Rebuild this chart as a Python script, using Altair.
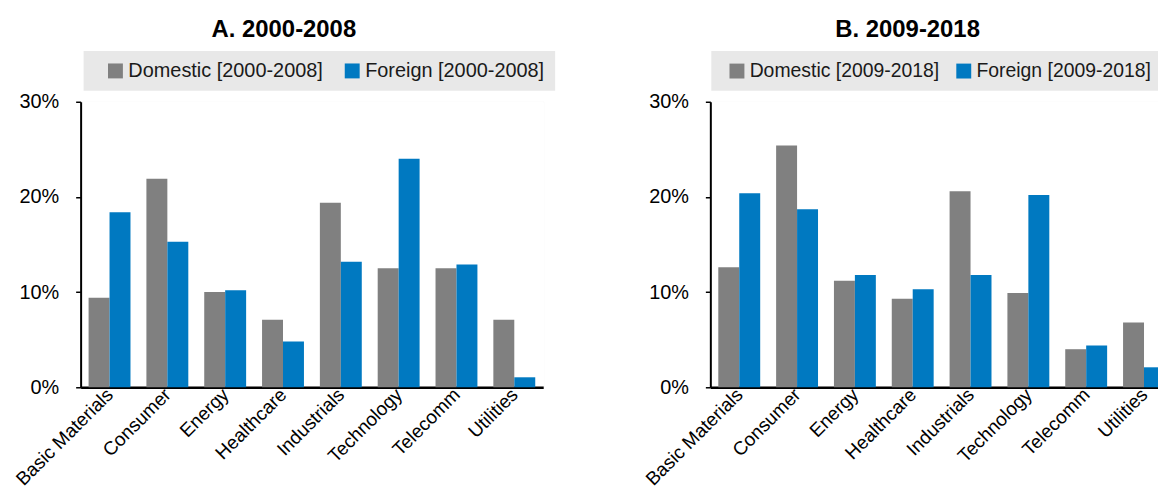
import altair as alt
import pandas as pd

categories = ["Basic Materials", "Consumer", "Energy", "Healthcare",
              "Industrials", "Technology", "Telecomm", "Utilities"]
domestic_a = [9.4, 21.9, 10.0, 7.1, 19.4, 12.5, 12.5, 7.1]
foreign_a = [18.4, 15.3, 10.2, 4.8, 13.2, 24.0, 12.9, 1.05]
domestic_b = [12.6, 25.4, 11.2, 9.3, 20.6, 9.9, 4.0, 6.8]
foreign_b = [20.4, 18.7, 11.8, 10.3, 11.8, 20.2, 4.4, 2.1]
y_ticks = [0, 10, 20, 30]
colors = ["#808080", "#0079C1"]

FONT = "Liberation Sans"


def panel(title, period, dom, fgn, legend_x, legend_gap, legend_font, col_pad):
    labels = [f"Domestic [{period}]", f"Foreign [{period}]"]
    rows = []
    for c, d, f in zip(categories, dom, fgn):
        rows.append({"sector": c, "kind": "Domestic", "series": labels[0], "value": d})
        rows.append({"sector": c, "kind": "Foreign", "series": labels[1], "value": f})
    df = pd.DataFrame(rows)
    return alt.Chart(df, title=alt.TitleParams(
        title, font=FONT, fontSize=24, fontWeight="bold", color="#000000",
        anchor="middle", frame="bounds", offset=9)).mark_bar().encode(
        x=alt.X("sector:N", sort=categories, title=None,
                scale=alt.Scale(paddingInner=0, paddingOuter=0),
                axis=alt.Axis(labelAngle=-45, labelAlign="right", labelBaseline="middle",
                              labelFont=FONT, labelFontSize=19, labelColor="#000000",
                              labelPadding=4, ticks=False, domainColor="#000000",
                              domainWidth=2.5, grid=True, gridColor="#ffffff",
                              gridWidth=2, tickBand="extent")),
        xOffset=alt.XOffset("kind:N", sort=["Domestic", "Foreign"],
                            scale=alt.Scale(paddingInner=0, paddingOuter=0.38)),
        y=alt.Y("value:Q", title=None,
                scale=alt.Scale(domain=[0, 30], nice=False),
                axis=alt.Axis(values=y_ticks, labelExpr="datum.value + '%'",
                              labelFont=FONT, labelFontSize=20, labelColor="#000000",
                              labelPadding=17, tickSize=5, tickColor="#000000",
                              tickWidth=1.5, domainColor="#000000", domainWidth=2,
                              grid=True, gridColor="#ffffff", gridWidth=2)),
        color=alt.Color("series:N", sort=labels,
                        scale=alt.Scale(domain=labels, range=colors),
                        legend=alt.Legend(
                            title=" ", titleOrient="left", titleFontSize=10,
                            titlePadding=legend_gap, orient="none", direction="horizontal",
                            legendX=legend_x, legendY=-51, fillColor="#e8e8e8",
                            padding=10, symbolType="square", symbolSize=225,
                            symbolStrokeWidth=0, symbolOpacity=1,
                            labelFont=FONT, labelFontSize=legend_font, labelColor="#1a1a1a",
                            labelOffset=3, columnPadding=col_pad, labelLimit=400)),
    ).properties(width=465, height=287)


a = panel("A. 2000-2008", "2000-2008", domestic_a, foreign_a, 3, 12, 20, 19)
b = panel("B. 2009-2018", "2009-2018", domestic_b, foreign_b, 1, 6, 19.5, 14)

chart = alt.hconcat(a, b, spacing=86).resolve_scale(
    color="independent", x="independent", y="independent", xOffset="independent"
).configure_view(stroke=None, fill="#e8e8e8").configure(
    background="#ffffff", padding={"left": 4, "top": 8, "right": -16, "bottom": 0}
)

chart.save("out.html", embed_options={"renderer": "svg", "actions": False})
